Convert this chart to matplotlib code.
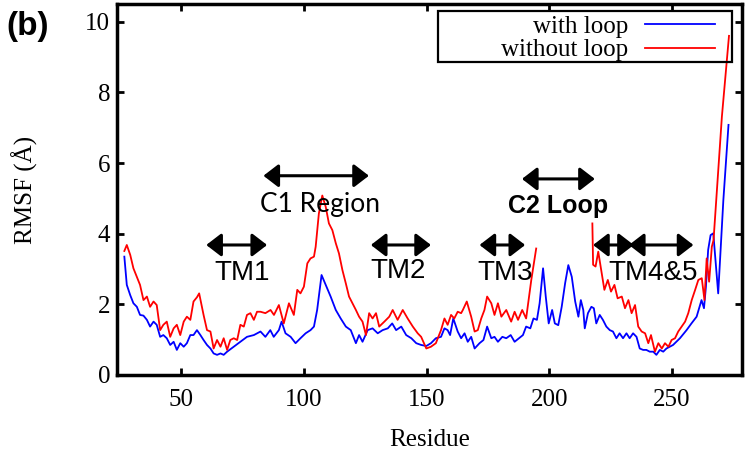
import matplotlib
matplotlib.use('Agg')
import matplotlib.pyplot as plt
from matplotlib.patches import Rectangle
import numpy as np

# RMSF per residue
blue_res = [26.8, 27.8, 29.2, 30.5, 31.9, 33.2, 34.6, 36.0, 37.3, 38.7, 40.0, 41.4, 42.7, 44.1,
            45.5, 46.9, 48.2, 49.6, 51.0, 52.3, 53.7, 55.0, 56.4, 57.8, 59.1, 60.5, 61.9, 63.2,
            64.6, 66.0, 67.3, 68.7, 71.4, 74.1, 76.8, 79.6, 82.3, 84.3, 86.3, 87.7, 89.8, 90.9,
            92.5, 94.6, 96.6, 98.6, 100.7, 102.7, 104.1, 105.4, 107.2, 108.9, 110.9, 113.0, 115.0,
            117.1, 119.1, 121.2, 122.5, 123.9, 126.0, 128.0, 130.1, 132.1, 134.2, 136.0, 137.6,
            139.7, 141.7, 143.8, 145.8, 147.8, 149.9, 151.8, 153.8, 155.9, 157.3, 158.6, 159.6,
            160.9, 162.7, 164.1, 165.5, 166.8, 168.2, 169.6, 171.6, 173.2, 174.7, 176.4, 177.7,
            179.1, 180.9, 182.5, 184.3, 185.9, 187.7, 189.3, 190.6, 192.3, 193.6, 195.0, 196.1,
            197.5, 198.6, 199.8, 201.2, 202.3, 203.7, 205.1, 206.5, 207.8, 209.2, 210.6, 211.9,
            212.9, 213.9, 214.5, 215.8, 217.2, 218.2, 219.2, 220.6, 221.9, 223.3, 224.7, 226.0,
            227.4, 228.7, 230.1, 231.5, 232.8, 234.2, 235.6, 236.9, 238.3, 239.6, 241.0, 242.4,
            243.7, 245.1, 246.5, 247.8, 250.5, 253.3, 256.0, 258.0, 260.1, 262.1, 263.1, 263.9,
            264.8, 265.8, 266.9, 268.9, 271.0, 273.1]
blue_rmsf = [3.35, 2.55, 2.26, 2.03, 1.93, 1.70, 1.68, 1.56, 1.37, 1.51, 1.42, 1.08, 1.13, 1.04,
             0.85, 0.94, 0.71, 0.90, 0.80, 0.90, 1.13, 1.13, 1.27, 1.13, 0.99, 0.85, 0.75, 0.61,
             0.57, 0.61, 0.57, 0.66, 0.80, 0.94, 1.08, 1.13, 1.23, 1.08, 1.27, 1.08, 1.27, 1.51,
             1.18, 1.08, 0.90, 1.04, 1.18, 1.27, 1.37, 1.84, 2.83, 2.55, 2.22, 1.84, 1.60,
             1.37, 1.27, 0.90, 1.13, 0.94, 1.27, 1.32, 1.18, 1.27, 1.32, 1.46, 1.27,
             1.37, 1.13, 1.04, 0.90, 0.85, 0.82, 0.90, 1.04, 1.08, 1.32, 1.27, 1.13,
             1.60, 1.23, 1.04, 1.18, 0.94, 1.08, 0.75, 0.90, 0.99, 1.37, 1.04, 1.08,
             0.94, 1.08, 1.04, 1.13, 0.94, 1.04, 1.13, 1.37, 1.32, 1.60, 1.56, 2.03,
             3.02, 2.22, 1.46, 1.84, 1.46, 1.41, 1.93, 2.60, 3.11, 2.78, 2.08, 1.65,
             2.12, 1.84, 1.32, 1.75, 1.93, 1.89, 1.46, 1.70, 1.56, 1.37, 1.27, 1.23,
             1.04, 1.18, 1.04, 1.18, 1.04, 1.18, 1.08, 0.75, 0.71, 0.71, 0.66, 0.66,
             0.57, 0.71, 0.66, 0.75, 0.85, 1.04, 1.27, 1.46, 1.65, 2.12, 1.89, 2.50,
             3.54, 3.96, 4.01, 2.31, 4.95, 7.08]

# without loop: residues 195-217 missing (gap)
red_res = [26.8, 27.8, 29.2, 30.5, 31.9, 33.2, 34.6, 36.0, 37.3, 38.7, 40.0, 41.4, 42.7, 44.1,
           45.5, 46.9, 48.2, 49.6, 51.0, 52.3, 53.7, 55.0, 56.4, 57.3, 59.1, 60.5, 61.9, 63.2,
           64.6, 66.0, 67.3, 68.7, 70.0, 71.4, 72.8, 74.1, 75.5, 76.8, 78.2, 79.6, 80.9, 82.3,
           84.3, 86.4, 87.8, 89.8, 91.8, 93.9, 95.9, 97.3, 98.6, 100.0, 101.4, 102.7, 104.1,
           104.8, 106.1, 107.5, 108.9, 110.2, 111.6, 113.0, 114.3, 115.7, 117.1, 118.4, 119.8,
           121.2, 122.5, 123.9, 125.3, 126.6, 128.0, 129.4, 130.7, 132.8, 134.8, 136.2, 138.2,
           140.3, 142.3, 144.4, 146.4, 147.8, 149.9, 151.8, 153.8, 155.9, 157.3, 158.6, 160.0,
           161.3, 162.7, 164.1, 164.8, 166.4, 168.2, 169.6, 170.9, 172.3, 173.6, 174.7, 176.4,
           177.7, 179.1, 180.5, 182.5, 184.5, 185.9, 187.3, 189.0, 190.6, 192.7, 194.7,
           205.0,
           217.6, 217.9, 218.9, 220.0, 221.4, 222.5, 223.9, 225.2, 226.6, 227.9, 229.6, 230.9,
           232.3, 233.6, 235.0, 236.3, 237.7, 239.1, 240.4, 241.5, 243.1, 244.5, 245.9, 247.2,
           248.6, 249.9, 251.3, 252.6, 254.0, 255.4, 256.7, 258.1, 259.5, 260.8, 262.2, 263.3,
           264.2, 265.2, 266.3, 267.0, 269.0, 270.4, 273.3]
red_rmsf = [3.51, 3.68, 3.40, 3.02, 2.78, 2.55, 2.12, 2.22, 1.93, 2.08, 1.98, 1.27, 1.42, 1.51,
            1.08, 1.32, 1.42, 1.13, 1.51, 1.65, 1.56, 2.08, 2.20, 2.31, 1.70, 1.27, 1.23, 0.75,
            0.99, 0.80, 1.04, 0.71, 0.99, 1.04, 0.99, 1.42, 1.37, 1.70, 1.75, 1.56, 1.79, 1.79,
            1.75, 1.84, 1.70, 1.98, 1.46, 2.03, 1.70, 2.41, 2.31, 2.50, 3.16, 3.30, 3.35,
            3.63, 4.57, 5.08, 4.76, 4.29, 4.10, 3.73, 3.44, 2.97, 2.59, 2.22, 2.03,
            1.84, 1.65, 1.51, 1.13, 1.75, 1.60, 1.75, 1.37, 1.51, 1.65, 1.84, 1.56,
            1.84, 1.60, 1.37, 1.18, 1.08, 0.75, 0.80, 0.90, 1.27, 1.60, 1.42, 1.70,
            1.60, 1.79, 1.75, 1.84, 2.08, 1.65, 1.23, 1.27, 1.60, 1.84, 2.22, 2.03,
            1.70, 2.03, 1.65, 1.84, 1.51, 1.79, 1.56, 1.84, 1.60, 2.69, 3.58,
            np.nan,
            4.29, 3.12, 3.07, 3.49, 2.88, 2.41, 2.69, 2.36, 2.55, 2.17, 2.22, 1.89,
            2.12, 1.75, 1.98, 1.37, 1.23, 1.18, 0.90, 1.13, 0.66, 0.90, 0.75, 0.90,
            0.80, 0.99, 1.04, 1.23, 1.37, 1.51, 1.75, 2.12, 2.41, 2.69, 2.74, 2.12,
            3.30, 2.64, 3.63, 3.82, 5.90, 7.31, 9.60]

serif = 'Liberation Serif'
fs = 18

fig = plt.figure(figsize=(7.47, 4.5), dpi=100)
ax = fig.add_axes([0.1566, 0.1667, 0.8367, 0.8243])

ax.plot(blue_res, blue_rmsf, color='#0000ff', lw=1.3, label='with loop')
ax.plot(red_res, red_rmsf, color='#ff0000', lw=1.3, label='without loop')

ax.set_xlim(23.8, 278.6)
ax.set_ylim(0, 10.5)
ax.set_xticks([50, 100, 150, 200, 250])
ax.set_yticks([0, 2, 4, 6, 8, 10])
for s in ax.spines.values():
    s.set_linewidth(2.5)
ax.tick_params(direction='in', length=5, width=2, top=True, right=True)
ax.tick_params(axis='x', pad=10)
ax.tick_params(axis='y', pad=5)
for lab in ax.get_xticklabels() + ax.get_yticklabels():
    lab.set_fontfamily(serif)
    lab.set_fontsize(fs)

ax.set_xlabel('Residue', fontfamily=serif, fontsize=fs, labelpad=13)
ax.set_ylabel('RMSF (Å)', fontfamily=serif, fontsize=fs, labelpad=34)

# arrows and labels
arrow_kw = dict(arrowstyle='<|-|>,head_length=0.65,head_width=0.5', lw=2.2, color='k',
                mutation_scale=14, shrinkA=0, shrinkB=0)

def harrow(x0, x1, y):
    ax.annotate('', xy=(x1, y), xytext=(x0, y), arrowprops=arrow_kw)

harrow(60.2, 85.0, 3.68)
ax.text(74.8, 2.69, 'TM1', fontfamily='Liberation Sans', fontsize=20, ha='center', va='baseline')
harrow(83.5, 126.5, 5.64)
ax.text(106.4, 4.62, 'C1 Region', fontfamily='Lato', fontsize=19, ha='center', va='baseline')
harrow(127.3, 151.8, 3.68)
ax.text(138.5, 2.74, 'TM2', fontfamily='Liberation Sans', fontsize=20, ha='center', va='baseline')
harrow(171.6, 190.2, 3.68)
ax.text(182.0, 2.69, 'TM3', fontfamily='Liberation Sans', fontsize=20, ha='center', va='baseline')
harrow(188.9, 218.6, 5.55)
ax.text(203.6, 4.58, 'C2 Loop', fontfamily='Liberation Sans', fontsize=18, fontweight='bold',
        ha='center', va='baseline')
harrow(217.9, 234.5, 3.68)
harrow(232.5, 258.8, 3.68)
ax.text(242.4, 2.69, 'TM4&5', fontfamily='Liberation Sans', fontsize=20, ha='center', va='baseline')

# legend (gnuplot style: text then sample)
leg = ax.legend(loc='upper right', bbox_to_anchor=(0.957, 0.970), borderaxespad=0,
                borderpad=0, frameon=False, markerfirst=False, handlelength=2.8,
                handletextpad=0.68, labelspacing=0.05, prop={'family': serif, 'size': fs})
ax.add_patch(Rectangle((0.514, 0.8445), 0.4694, 0.1375, transform=ax.transAxes,
                       fill=False, edgecolor='k', lw=1.6, zorder=5))

fig.text(0.009, 0.94, '(b)', fontfamily='Liberation Sans', fontweight='bold', fontsize=24,
         va='center', ha='left')

fig.savefig('out.png', dpi=100)
